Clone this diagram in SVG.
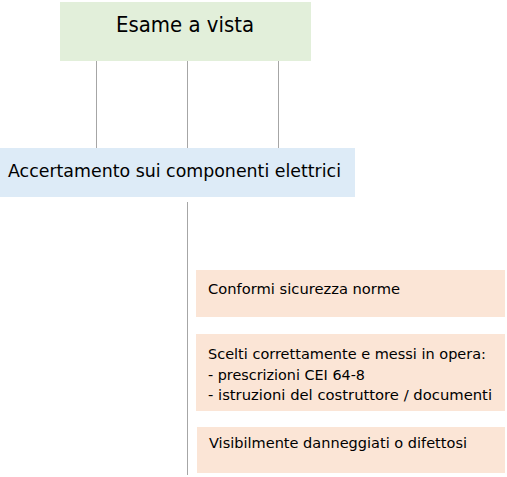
<svg xmlns="http://www.w3.org/2000/svg" width="507" height="477" viewBox="0 0 507 477">
<style>
text{font-family:"DejaVu Sans","Liberation Sans",sans-serif;fill:#000}
.c{stroke:#A6A6A6;stroke-width:1;fill:none}
.o{fill:#FBE5D6}
.s{font-size:14.5px}
</style>
<rect width="507" height="477" fill="#fff"/>
<g id="connectors">
<line class="c" x1="96.5" y1="61" x2="96.5" y2="148"/>
<line class="c" x1="187.5" y1="61" x2="187.5" y2="148"/>
<line class="c" x1="278.5" y1="61" x2="278.5" y2="148"/>
<line class="c" x1="187.5" y1="202" x2="187.5" y2="475"/>
</g>
<g id="esame">
<rect x="60" y="2" width="251" height="59" fill="#E2EFDA"/>
<text x="116" y="32" font-size="22" textLength="138" lengthAdjust="spacingAndGlyphs">Esame a vista</text>
</g>
<g id="accertamento">
<rect x="0" y="148" width="355" height="49" fill="#DDEBF7"/>
<text x="8" y="177" font-size="18.5" textLength="333" lengthAdjust="spacingAndGlyphs">Accertamento sui componenti elettrici</text>
</g>
<g id="conformi">
<rect class="o" x="196" y="270" width="309" height="47"/>
<text class="s" x="208" y="294" textLength="192" lengthAdjust="spacingAndGlyphs">Conformi sicurezza norme</text>
</g>
<g id="scelti">
<rect class="o" x="196" y="334" width="309" height="77"/>
<text class="s" x="208" y="359" textLength="278" lengthAdjust="spacingAndGlyphs">Scelti correttamente e messi in opera:</text>
<text class="s" x="208" y="380" textLength="157" lengthAdjust="spacingAndGlyphs">- prescrizioni CEI 64-8</text>
<text class="s" x="208" y="400" textLength="284" lengthAdjust="spacingAndGlyphs">- istruzioni del costruttore / documenti</text>
</g>
<g id="visibilmente">
<rect class="o" x="197" y="427" width="308" height="46"/>
<text class="s" x="209" y="448" textLength="258" lengthAdjust="spacingAndGlyphs">Visibilmente danneggiati o difettosi</text>
</g>
</svg>
